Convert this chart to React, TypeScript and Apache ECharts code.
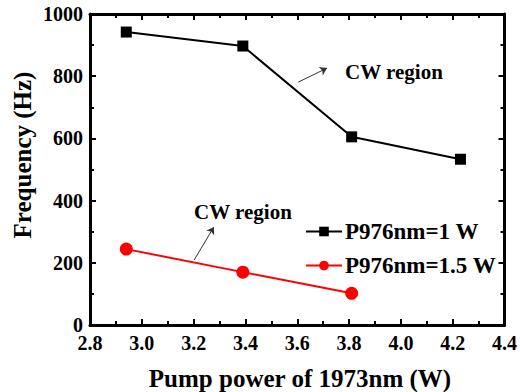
import React, { useEffect, useRef } from "react";
import * as echarts from "echarts";

const pumpPower1 = [2.94, 3.39, 3.81, 4.23];
const freq1 = [942, 897, 605, 533];
const pumpPower2 = [2.94, 3.39, 3.81];
const freq2 = [244, 170, 102];
const seriesNames = ["P976nm=1 W", "P976nm=1.5 W"];
const xTicks = [2.8, 3.0, 3.2, 3.4, 3.6, 3.8, 4.0, 4.2, 4.4];
const yTicks = [0, 200, 400, 600, 800, 1000];
const arrow1 = [[3.604, 781], [3.715, 826]];
const arrow2 = [[3.202, 209], [3.278, 315]];
const annotationText = "CW region";

const FAMILY = "Liberation Serif";
const FONT = "'Liberation Serif', serif";

export default function App() {
  const ref = useRef<HTMLDivElement>(null);
  useEffect(() => {
    if (!ref.current) return;
    const chart = echarts.init(ref.current, undefined, { renderer: "svg" });
    const axisCommon = {
      type: "value" as const,
      axisLine: { show: true, onZero: false, lineStyle: { color: "#000", width: 3 } },
      axisTick: { show: true, inside: true, length: 6, lineStyle: { color: "#000", width: 2 } },
      minorTick: { show: true, splitNumber: 2, length: 4, lineStyle: { color: "#000", width: 2 } },
      splitLine: { show: false },
    };
    const labelStyle = {
      fontFamily: FAMILY,
      fontWeight: "bold" as const,
      fontSize: 20,
      color: "#000",
    };
    chart.setOption({
      animation: false,
      textStyle: { fontFamily: FAMILY },
      grid: { left: 90, right: 12, top: 14, bottom: 67 },
      xAxis: [
        {
          ...axisCommon,
          min: xTicks[0],
          max: xTicks[xTicks.length - 1],
          interval: 0.2,
          position: "bottom",
          axisLabel: { ...labelStyle, margin: 8, formatter: (v: number) => v.toFixed(1) },
        },
        {
          ...axisCommon,
          min: xTicks[0],
          max: xTicks[xTicks.length - 1],
          interval: 0.2,
          position: "top",
          axisLabel: { show: false },
        },
      ],
      yAxis: [
        {
          ...axisCommon,
          min: yTicks[0],
          max: yTicks[yTicks.length - 1],
          interval: 200,
          position: "left",
          axisLabel: { ...labelStyle, margin: 7, formatter: (v: number) => String(v) },
        },
        {
          ...axisCommon,
          min: yTicks[0],
          max: yTicks[yTicks.length - 1],
          interval: 200,
          position: "right",
          axisLabel: { show: false },
        },
      ],
      legend: {
        left: 300,
        top: 215,
        orient: "vertical",
        itemWidth: 36,
        itemHeight: 12,
        itemGap: 11,
        textStyle: { fontFamily: FAMILY, fontWeight: "bold", fontSize: 23, color: "#000", padding: [0, 0, 0, -2] },
        data: seriesNames,
      },
      series: [
        {
          name: seriesNames[0],
          type: "line",
          data: pumpPower1.map((x, i) => [x, freq1[i]]),
          symbol: "rect",
          symbolSize: 11,
          itemStyle: { color: "#000" },
          lineStyle: { color: "#000", width: 2 },
          markLine: {
            silent: true,
            symbol: ["none", "arrow"],
            symbolSize: 7,
            label: { show: false },
            lineStyle: { color: "#333", width: 1, type: "solid" },
            data: [
              [{ coord: arrow1[0] }, { coord: arrow1[1] }],
            ],
          },
        },
        {
          name: seriesNames[1],
          type: "line",
          data: pumpPower2.map((x, i) => [x, freq2[i]]),
          symbol: "circle",
          symbolSize: 13,
          itemStyle: { color: "#ff0000" },
          lineStyle: { color: "#ff0000", width: 2 },
          markLine: {
            silent: true,
            symbol: ["none", "arrow"],
            symbolSize: 7,
            label: { show: false },
            lineStyle: { color: "#333", width: 1, type: "solid" },
            data: [
              [{ coord: arrow2[0] }, { coord: arrow2[1] }],
            ],
          },
        },
      ],
      graphic: [
        {
          type: "text",
          left: 345,
          top: 61,
          style: { text: annotationText, font: `bold 21px ${FONT}`, fill: "#000" },
        },
        {
          type: "text",
          left: 194,
          top: 201,
          style: { text: annotationText, font: `bold 21px ${FONT}`, fill: "#000" },
        },
        {
          type: "text",
          x: 300,
          y: 378,
          style: {
            text: "Pump power of 1973nm (W)",
            font: `bold 25px ${FONT}`,
            fill: "#000",
            align: "center",
            verticalAlign: "middle",
          },
        },
        {
          type: "text",
          x: 22,
          y: 155,
          rotation: Math.PI / 2,
          style: {
            text: "Frequency (Hz)",
            font: `bold 25px ${FONT}`,
            fill: "#000",
            align: "center",
            verticalAlign: "middle",
          },
        },
      ],
    });
    return () => chart.dispose();
  }, []);
  return <div ref={ref} style={{ position: "absolute", left: 0, top: 0, width: 520, height: 392 }} />;
}
